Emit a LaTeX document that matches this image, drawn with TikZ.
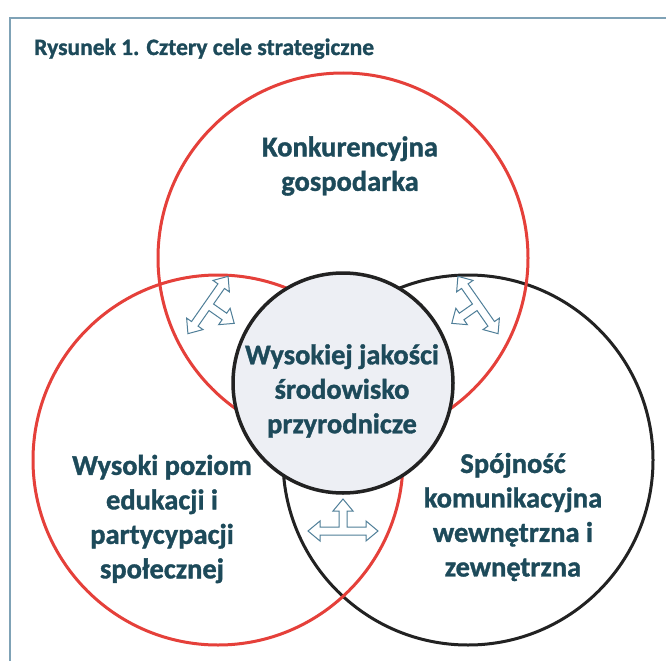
\documentclass[tikz,border=0pt]{standalone}
\usepackage{fontspec}
\setmainfont{Carlito}[BoldFeatures={FakeBold=1.2}]
\definecolor{goaltext}{HTML}{1D4A5A}
\definecolor{ringred}{HTML}{E5403A}
\definecolor{ringblack}{HTML}{222222}
\definecolor{framegrey}{HTML}{7FA2B6}
\definecolor{arrowblue}{HTML}{4F7E98}
\definecolor{centrefill}{HTML}{EDEFF4}
\begin{document}
\begin{tikzpicture}[%
        x=1pt, y=-1pt,
        ring/.style={shape=circle, draw, line width=3pt, minimum size=370pt, inner sep=0pt},
        redring/.style={ring, draw=ringred},
        blackring/.style={ring, draw=ringblack},
        goal/.style={text=goaltext, align=center, inner sep=0pt,
            font=\fontsize{28.5}{34.5}\selectfont\bfseries},
        linkarrow/.style={draw=arrowblue, fill=white, line width=1pt, line join=miter}
    ]
    \useasboundingbox [fill=white] (0,0) rectangle (666,661);
    \draw [framegrey, line width=2pt] (10,661) -- (10,18) -- (667,18);
    \node [anchor=base west, inner sep=0pt, text=goaltext,
        font=\fontsize{23.5}{28}\selectfont\bfseries] (title) at (34,55)
        {Rysunek 1. Cztery cele strategiczne};

    % the three goals round the centre
    \node [blackring] (transport) at (468,460) {};
    \node [redring] (education) at (218,460) {};
    \node [redring] (economy) at (343,258) {};
    \node [ring, draw=ringblack, fill=centrefill, line width=3.5pt,
        minimum size=220pt] (environment) at (343,383) {};

    \node [goal] (economytext) at (350,166) {Konkurencyjna\\gospodarka};
    \node [goal] (environmenttext) at (342,391) {Wysokiej jakości\\środowisko\\przyrodnicze};
    \node [goal] (educationtext) at (162,519) {Wysoki poziom\\edukacji i\\partycypacji\\społecznej};
    \node [goal] (transporttext) at (513,517) {Spójność\\komunikacyjna\\wewnętrzna i\\zewnętrzna};

    % links between the goals
    \foreach \ax/\ay/\ang in {208/305/-125, 478/305/125, 343/531/0}
        \draw [linkarrow, shift={(\ax,\ay)}, rotate=\ang]
            (-35,0) -- (-23,-10) -- (-23,-4) -- (-4,-4) -- (-4,-20) -- (-10,-20)
            -- (0,-32) -- (10,-20) -- (4,-20) -- (4,-4) -- (23,-4) -- (23,-10)
            -- (35,0) -- (23,10) -- (23,4) -- (-23,4) -- (-23,10) -- cycle;
\end{tikzpicture}
\end{document}
